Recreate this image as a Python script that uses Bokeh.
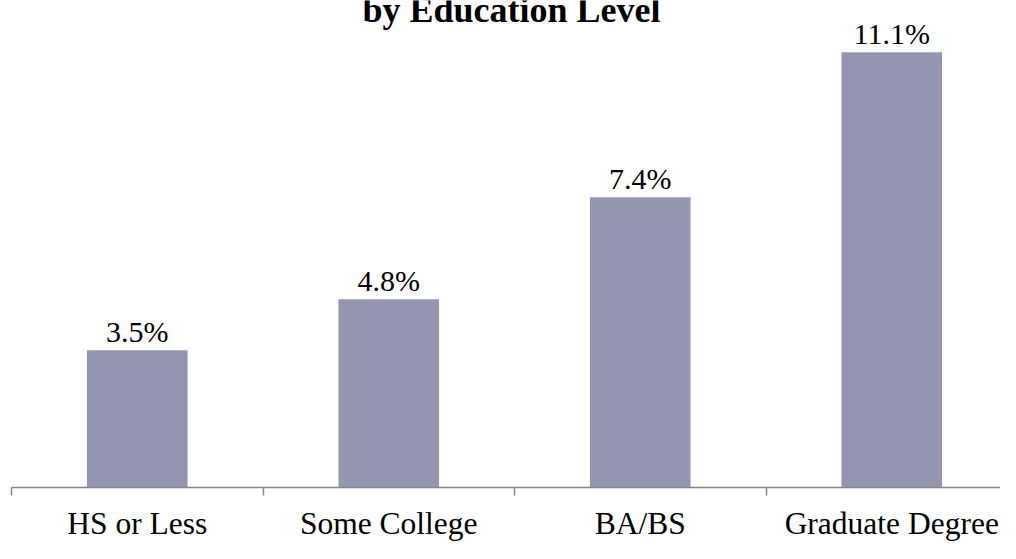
from bokeh.plotting import figure
from bokeh.models import Range1d, FixedTicker, Label, ColumnDataSource
from bokeh.core.properties import value
from bokeh.embed import file_html
from bokeh.resources import INLINE

# data
categories = ["HS or Less", "Some College", "BA/BS", "Graduate Degree"]
values = [3.5, 4.8, 7.4, 11.1]
value_labels = [f"{v}%" for v in values]
title_text = "by Education Level"

xs = list(range(1, len(categories) + 1))
src = ColumnDataSource(dict(x=xs, top=values, lab=value_labels))

W, H = 1000, 543
left_border = 11
bottom_border = 53
cat_px = 251.5
px_per_unit = 39.46
frame_w = W - left_border
frame_h = H - bottom_border

p = figure(width=W, height=H, output_backend="svg", toolbar_location=None,
           x_range=Range1d(0.5, 0.5 + frame_w / cat_px),
           y_range=Range1d(0, frame_h / px_per_unit),
           y_axis_location=None,
           min_border_left=left_border, min_border_right=0,
           min_border_top=0, min_border_bottom=bottom_border)
p.outline_line_color = None
p.grid.visible = False
p.background_fill_color = "white"
p.border_fill_color = "white"

p.vbar(x="x", top="top", width=0.4, bottom=0, source=src,
       fill_color="#9495B0", line_color=None)

p.text(x="x", y="top", text="lab", source=src, y_offset=-19,
       text_align="center", text_baseline="alphabetic",
       text_font=value("Liberation Serif"), text_font_size="30px",
       text_color="black")

ax = p.xaxis[0]
ax.ticker = FixedTicker(ticks=xs, minor_ticks=[i + 0.5 for i in range(len(categories) + 1)])
ax.major_label_overrides = {x: c for x, c in zip(xs, categories)}
ax.major_tick_in = 0
ax.major_tick_out = 0
ax.minor_tick_in = 0
ax.minor_tick_out = 8
ax.minor_tick_line_color = "#868686"
ax.minor_tick_line_width = 1.5
ax.axis_line_color = "#868686"
ax.axis_line_width = 1.5
ax.major_label_text_font = "Liberation Serif"
ax.major_label_text_font_size = "31.5px"
ax.major_label_text_color = "black"
ax.major_label_standoff = 10

title = Label(x=0.5 + (511 - left_border) / cat_px, y=(frame_h - 10) / px_per_unit,
              text=title_text, text_align="center", text_baseline="alphabetic",
              text_font="Liberation Serif", text_font_style="bold",
              text_font_size="36px", text_color="black")
p.add_layout(title)

open("out.html", "w").write(file_html(p, INLINE))
